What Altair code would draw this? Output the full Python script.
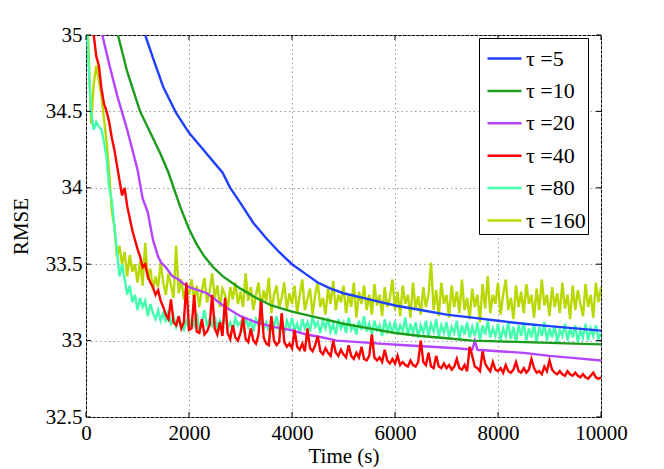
import altair as alt
import pandas as pd

LABELS = ["τ =5", "τ =10", "τ =20", "τ =40", "τ =80", "τ =160"]
COLORS = ["#2040ff", "#1c9c1c", "#b444ff", "#ff0000", "#44ffae", "#b8d800"]
DRAW_ORDER = ["τ =160", "τ =80", "τ =20", "τ =40", "τ =10", "τ =5"]

X_TICKS = [0, 2000, 4000, 6000, 8000, 10000]
Y_TICKS = [32.5, 33, 33.5, 34, 34.5, 35]

# smooth curves (time, RMSE)
tau5_t = [1000, 1150, 1300, 1500, 1750, 2000, 2250, 2500, 2650, 2800, 3000, 3250, 3500, 3750,
          4000, 4250, 4500, 4750, 5000, 5500, 6000, 6500, 7000, 7500, 8000, 8500, 9000, 9500, 10000]
tau5_v = [35.15, 35.0, 34.85, 34.66, 34.49, 34.36, 34.26, 34.16, 34.1, 34.0, 33.9, 33.77, 33.67, 33.58,
          33.5, 33.44, 33.38, 33.34, 33.31, 33.27, 33.23, 33.2, 33.17, 33.15, 33.13, 33.11, 33.095, 33.08, 33.065]

tau10_t = [500, 620, 800, 1050, 1250, 1450, 1600, 1825, 2000, 2150, 2300, 2470, 2660, 3000, 3300,
           3600, 4000, 4500, 5000, 5500, 6000, 6500, 7000, 7500, 8000, 9000, 10000]
tau10_v = [35.2, 35.0, 34.76, 34.5, 34.36, 34.22, 34.1, 33.88, 33.73, 33.63, 33.55, 33.48, 33.42, 33.34, 33.28,
           33.23, 33.19, 33.15, 33.11, 33.08, 33.05, 33.03, 33.015, 33.0, 32.995, 32.985, 32.975]

tau20_t = [200, 317, 450, 608, 800, 1000, 1100, 1200, 1300, 1400, 1460, 1550, 1680, 1800, 1900, 2000,
           2350, 2660, 3000, 3300, 3640, 3960, 4280, 4600, 4870, 5300, 5700, 6200, 6700, 7200, 7500,
           7550, 7600, 8000, 8500, 9000, 9500, 10000]
tau20_v = [35.2, 35.0, 34.81, 34.6, 34.38, 34.12, 33.93, 33.84, 33.66, 33.55, 33.51, 33.48, 33.42, 33.4, 33.37, 33.35,
           33.31, 33.23, 33.16, 33.12, 33.09, 33.07, 33.04, 33.02, 33.0, 32.99, 32.98, 32.97, 32.96, 32.95, 32.94,
           33.0, 32.94, 32.93, 32.92, 32.9, 32.885, 32.87]

# noisy curves sampled every 50 s from 0 to 10000
tau40_v = [
    36.0, 35.6, 35.25, 35.0, 34.86, 34.8, 34.65, 34.55, 34.5, 34.43,
    34.33, 34.25, 34.15, 34.05, 33.95, 34.0, 33.88, 33.8, 33.72, 33.66,
    33.6, 33.55, 33.48, 33.5, 33.42, 33.38, 33.35, 33.3, 33.33, 33.26,
    33.22, 33.17, 33.14, 33.27, 33.12, 33.1, 33.16, 33.08, 33.12, 33.38,
    33.07, 33.08, 33.3, 33.06, 33.05, 33.14, 33.04, 33.06, 33.1, 33.3,
    33.08, 33.04, 33.12, 33.03, 33.28, 33.05, 33.01, 33.1, 33.02, 33.0,
    33.05, 33.15, 33.01, 32.99, 33.08, 33.0, 32.98, 33.04, 33.27, 33.02,
    32.98, 32.97, 33.16, 33.0, 32.97, 32.99, 33.18, 32.99, 32.96, 32.98,
    32.95, 33.07, 32.96, 32.94, 32.98, 32.93, 33.08, 32.95, 32.93, 32.97,
    33.03, 32.93, 32.91, 32.95, 32.92, 32.9, 33.0, 32.92, 32.9, 32.94,
    32.91, 32.89, 32.97, 32.9, 32.88, 32.92, 32.89, 32.96, 32.88, 32.87,
    32.9, 33.04, 32.89, 32.87, 32.89, 32.86, 32.94, 32.87, 32.85, 32.88,
    32.85, 32.9, 32.84, 32.86, 32.84, 32.83, 32.87, 32.84, 32.83, 32.86,
    33.0, 32.86, 32.84, 32.92, 32.83, 32.82, 32.9, 32.83, 32.82, 32.85,
    32.82, 32.84, 32.81, 32.83, 32.88, 32.82, 32.81, 32.84, 32.8, 32.96,
    32.9, 32.83, 32.82, 32.8, 32.93, 32.85, 32.82, 32.8, 32.86, 32.81,
    32.8, 32.82, 32.79, 32.84, 32.8, 32.79, 32.81, 32.86, 32.8, 32.79,
    32.82, 32.79, 32.81, 32.88, 32.82, 32.79, 32.8, 32.78, 32.83, 32.8,
    32.87, 32.81, 32.79, 32.78, 32.8, 32.78, 32.77, 32.8, 32.78, 32.77,
    32.79, 32.77, 32.76, 32.78, 32.76, 32.75, 32.77, 32.79, 32.76, 32.75,
    32.76]

tau80_v = [
    35.2, 34.8, 34.49, 34.38, 34.43, 34.4, 34.38, 34.3, 34.2, 34.0,
    33.92, 33.75, 33.59, 33.42, 33.5, 33.4, 33.3, 33.36, 33.25, 33.3,
    33.2, 33.28, 33.22, 33.26, 33.16, 33.24, 33.18, 33.14, 33.2, 33.13,
    33.18, 33.12, 33.2, 33.1, 33.16, 33.09, 33.14, 33.1, 33.07, 33.13,
    33.08, 33.14, 33.1, 33.18, 33.08, 33.12, 33.2, 33.09, 33.14, 33.1,
    33.16, 33.08, 33.13, 33.1, 33.17, 33.08, 33.12, 33.06, 33.15, 33.1,
    33.12, 33.07, 33.15, 33.09, 33.13, 33.06, 33.14, 33.1, 33.17, 33.08,
    33.12, 33.06, 33.14, 33.09, 33.16, 33.07, 33.11, 33.05, 33.13, 33.08,
    33.15, 33.07, 33.11, 33.05, 33.14, 33.08, 33.12, 33.06, 33.16, 33.09,
    33.12, 33.05, 33.13, 33.08, 33.15, 33.06, 33.11, 33.04, 33.14, 33.08,
    33.12, 33.05, 33.15, 33.07, 33.1, 33.04, 33.13, 33.07, 33.16, 33.06,
    33.11, 33.04, 33.13, 33.07, 33.1, 33.03, 33.14, 33.06, 33.11, 33.05,
    33.13, 33.04, 33.1, 33.06, 33.15, 33.03, 33.11, 33.05, 33.12, 33.02,
    33.1, 33.05, 33.13, 33.03, 33.11, 33.06, 33.14, 33.02, 33.1, 33.05,
    33.12, 33.02, 33.09, 33.05, 33.13, 33.01, 33.1, 33.04, 33.12, 33.02,
    33.09, 33.03, 33.12, 33.0, 33.1, 33.04, 33.13, 33.02, 33.08, 33.03,
    33.11, 33.0, 33.08, 33.03, 33.12, 33.01, 33.09, 32.99, 33.1, 33.03,
    33.12, 33.0, 33.08, 33.02, 33.11, 32.99, 33.09, 33.03, 33.12, 33.0,
    33.08, 33.02, 33.1, 32.99, 33.07, 33.03, 33.11, 33.0, 33.08, 33.02,
    33.1, 32.99, 33.07, 33.02, 33.11, 33.0, 33.08, 33.03, 33.1, 33.01,
    33.05]

tau160_v = [
    35.3, 34.9, 34.42, 34.68, 34.8, 34.7, 34.6, 34.45, 34.3, 34.1,
    33.85, 33.75, 33.55, 33.62, 33.5, 33.58, 33.42, 33.56, 33.45, 33.5,
    33.38, 33.52, 33.36, 33.64, 33.4, 33.47, 33.33, 33.42, 33.35, 33.51,
    33.38, 33.3, 33.44, 33.36, 33.28, 33.62, 33.31, 33.4, 33.27, 33.35,
    33.3, 33.4, 33.26, 33.36, 33.22, 33.33, 33.41, 33.25, 33.32, 33.44,
    33.28, 33.36, 33.22, 33.34, 33.3, 33.2, 33.35, 33.27, 33.38, 33.24,
    33.32, 33.22, 33.44, 33.26, 33.35, 33.2, 33.3, 33.38, 33.21, 33.33,
    33.26, 33.41, 33.18, 33.3, 33.36, 33.22, 33.28, 33.38, 33.2, 33.31,
    33.24, 33.36, 33.18, 33.3, 33.4, 33.2, 33.27, 33.34, 33.17, 33.3,
    33.38, 33.22, 33.28, 33.17, 33.34, 33.24, 33.39, 33.2, 33.3, 33.25,
    33.36, 33.18, 33.3, 33.22, 33.38, 33.15, 33.32, 33.24, 33.36, 33.2,
    33.3, 33.17, 33.37, 33.23, 33.3, 33.16, 33.35, 33.22, 33.28, 33.4,
    33.2, 33.32, 33.16, 33.36, 33.24, 33.3, 33.15, 33.38, 33.21, 33.29,
    33.17, 33.35, 33.22, 33.3, 33.51, 33.2, 33.33, 33.16, 33.38, 33.24,
    33.3, 33.15, 33.36, 33.22, 33.32, 33.18, 33.4, 33.2, 33.28, 33.14,
    33.34, 33.22, 33.3, 33.12, 33.37, 33.21, 33.42, 33.18, 33.3, 33.24,
    33.38, 33.17, 33.3, 33.4, 33.2, 33.28, 33.14, 33.36, 33.22, 33.32,
    33.18, 33.37, 33.24, 33.3, 33.15, 33.34, 33.2, 33.4, 33.23, 33.3,
    33.16, 33.35, 33.22, 33.31, 33.18, 33.38, 33.21, 33.3, 33.14, 33.36,
    33.2, 33.33, 33.24, 33.16, 33.37, 33.22, 33.3, 33.15, 33.38, 33.25,
    33.35]

noisy_t = list(range(0, 10001, 50))

rows = []
for lab, ts, vs in [
    ("τ =5", tau5_t, tau5_v),
    ("τ =10", tau10_t, tau10_v),
    ("τ =20", tau20_t, tau20_v),
    ("τ =40", noisy_t, tau40_v),
    ("τ =80", noisy_t, tau80_v),
    ("τ =160", noisy_t, tau160_v),
]:
    for t, v in zip(ts, vs):
        rows.append({"s": lab, "t": t, "v": v})
df = pd.DataFrame(rows)
xt_df = pd.DataFrame({"t": X_TICKS})
yt_df = pd.DataFrame({"v": Y_TICKS})

FONT = "Liberation Serif"
W, H = 515, 382
TL = 5  # inward tick length

x_axis = alt.Axis(values=X_TICKS, title="Time (s)", labelExpr="'' + datum.value",
                  labelFlush=False, labelPadding=5, titlePadding=2,
                  labelFont=FONT, labelFontSize=21, titleFont=FONT, titleFontSize=21)
y_axis = alt.Axis(values=Y_TICKS, title="RMSE", labelExpr="'' + datum.value",
                  labelFlush=False, labelPadding=4, titlePadding=14,
                  labelFont=FONT, labelFontSize=21, titleFont=FONT, titleFontSize=21)
x_scale = alt.Scale(domain=[0, 10000], nice=False)
y_scale = alt.Scale(domain=[32.5, 35], nice=False, zero=False)

x_enc = alt.X("t:Q", scale=x_scale, axis=x_axis)
y_enc = alt.Y("v:Q", scale=y_scale, axis=y_axis)
c_enc = alt.Color("s:N", scale=alt.Scale(domain=LABELS, range=COLORS),
                  legend=alt.Legend(title=None, orient="none", legendX=393, legendY=3,
                                    labelFont=FONT, labelFontSize=22))

base = alt.Chart(df)
layers = []
for lab in DRAW_ORDER:
    layers.append(
        base.transform_filter(alt.datum.s == lab)
        .mark_line(clip=True, strokeWidth=2.4)
        .encode(x=x_enc, y=y_enc, color=c_enc)
    )

# inward tick marks on all four sides (MATLAB box style)
tick_style = dict(color="black", strokeWidth=1)
xb = alt.Chart(xt_df).mark_rule(**tick_style).encode(x=x_enc, y=alt.value(H - TL), y2=alt.value(H))
xtop = alt.Chart(xt_df).mark_rule(**tick_style).encode(x=x_enc, y=alt.value(0), y2=alt.value(TL))
yl = alt.Chart(yt_df).mark_rule(**tick_style).encode(y=y_enc, x=alt.value(0), x2=alt.value(TL))
yr = alt.Chart(yt_df).mark_rule(**tick_style).encode(y=y_enc, x=alt.value(W - TL), x2=alt.value(W))
layers += [xb, xtop, yl, yr]

chart = alt.layer(*layers).properties(
    width=W, height=H,
    background="white",
    autosize=alt.AutoSizeParams(type="none"),
    padding={"left": 78, "top": 27, "right": 55, "bottom": 50},
).configure_view(
    stroke="black", strokeWidth=1
).configure_axis(
    labelFont=FONT, labelFontSize=21, labelColor="black",
    titleFont=FONT, titleFontSize=21, titleColor="black", titleFontWeight="normal",
    ticks=False, domain=False,
    grid=True, gridColor="#9a9a9a", gridDash=[1.5, 3], gridWidth=1,
).configure_legend(
    symbolType="stroke", symbolSize=1156, symbolStrokeWidth=2.5, symbolOffset=5,
    labelFont=FONT, labelFontSize=22, labelColor="black", labelLimit=200,
    labelOffset=3, strokeColor="black", fillColor="white",
    padding=2, rowPadding=2.4, cornerRadius=0,
)

chart.save("out.html", embed_options={"renderer": "svg", "actions": False})
